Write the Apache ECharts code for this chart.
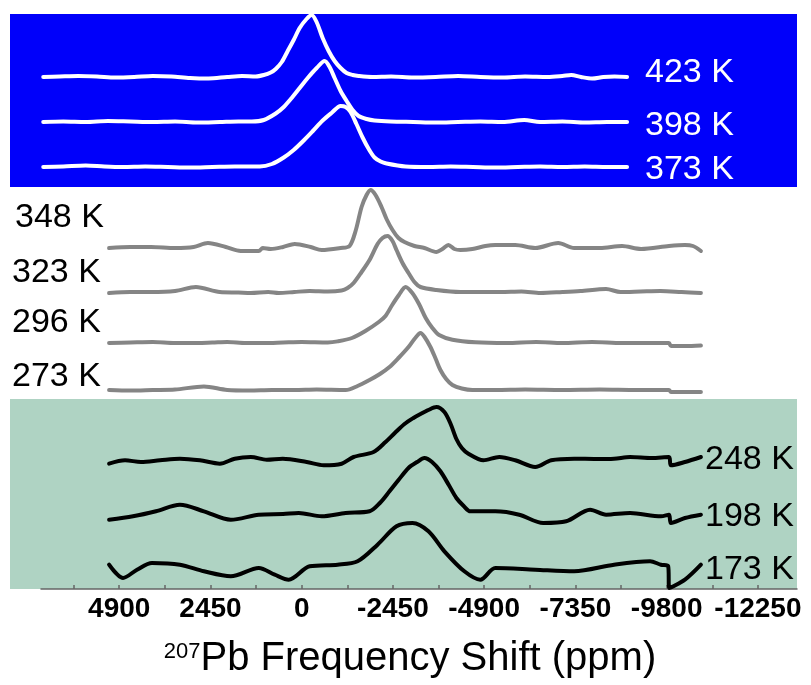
<!DOCTYPE html>
<html>
<head>
<meta charset="utf-8">
<script src="https://cdn.jsdelivr.net/npm/echarts@6/dist/echarts.min.js"></script>
<style>
html,body{margin:0;padding:0;background:#fff;}
#chart{width:811px;height:685px;}
</style>
</head>
<body>
<div id="chart"></div>
<script>
// Temperatures (labels) and stacking offsets (intensity units)
const temps = ['423 K','398 K','373 K','348 K','323 K','296 K','273 K','248 K','198 K','173 K'];
const offsets = [512, 467, 422, 342, 297, 246, 199, 127, 71, 21];

// Tick values (ppm)
const tickLabels = [4900, 2450, 0, -2450, -4900, -7350, -9800, -12250];
const minorTicks = [6125, 4900, 3675, 2450, 1225, 0, -1225, -2450, -3675, -4900, -6125, -7350, -8575, -9800, -11025, -12250];

// Spectra: chemical shift (ppm) and intensity (a.u.)
const ppm423 = [6940, 6500, 6000, 5500, 5000, 4500, 4000, 3500, 3000, 2500, 2000, 1600, 1233, 1018, 832, 697, 535, 375, 215, 54, -130, -268, -400, -563, -724, -884, -1045, -1206, -1367, -1528, -1900, -2400, -3000, -3600, -4200, -4800, -5400, -6000, -6600, -7000, -7236, -7500, -7800, -8100, -8400, -8737];
const int423 = [0, 0.5, 1, 0.5, -0.5, 0, 1, 0.5, -1, -1.5, 0, 1, 0.5, 2, 4.5, 8, 15, 26, 37, 49, 58, 62, 55, 39, 26, 16, 9, 4, 2, 1, 0, 0.5, -0.5, 0, 1, 0, -0.5, 0.5, 0, 1, 2, 0, -1.5, 0, 0.5, 0];

const ppm398 = [6940, 6400, 5800, 5200, 4600, 4000, 3400, 2800, 2200, 1700, 1340, 1018, 697, 482, 268, 54, -161, -402, -616, -750, -884, -1045, -1206, -1367, -1528, -1742, -1956, -2385, -3000, -3600, -4200, -4800, -5400, -5976, -6400, -7000, -7600, -8200, -8737];
const int398 = [0, 0.5, 0, 1, 0.5, 0, 0.5, -0.5, 0, 0.5, 0.5, 2, 8.5, 15, 24, 34, 44, 54, 61, 55, 44, 31, 21, 12, 6, 3, 1.5, 0.5, 0, -0.5, 0, 0.5, 0, 2, 0, 0.5, -0.5, 0, 0];

const ppm373 = [6940, 6400, 5800, 5300, 4800, 4200, 3600, 3000, 2400, 1800, 1126, 800, 482, 215, -54, -300, -563, -800, -1045, -1180, -1313, -1470, -1635, -1800, -1956, -2120, -2278, -2787, -3400, -4000, -4600, -5200, -5800, -6400, -7000, -7600, -8200, -8737];
const int373 = [0, 0.5, 1.5, 0.5, 0, 0.5, 0, -0.5, 0, 0.5, 0.5, 3, 9.5, 17, 26.5, 36, 46.5, 54, 61, 60, 55, 43, 29.5, 18, 9.5, 5.5, 3.5, 0.5, 0, 0.5, 0, -0.5, 0, 0.5, 0, 0.5, 0, 0];

const ppm348 = [5172, 4600, 4046, 3400, 2900, 2519, 2037, 1637, 1152, 1045, 832, 500, 188, -241, -536, -1045, -1286, -1447, -1608, -1742, -1849, -1983, -2144, -2278, -2439, -2600, -2760, -3028, -3296, -3618, -3779, -3940, -4100, -4261, -4583, -4932, -5199, -5735, -6271, -6888, -7316, -8013, -8603, -9112, -9862, -10291, -10505, -10720];
const int348 = [-1, 0, 0, -1, 0, 4, 0, -4, -4, -1, -2, 0, 3, 0, -3, -1, 1, 16, 40, 52, 57, 52, 40, 28, 17, 9, 5, 1, -1, -5, -2, 2, -2, -3, -2, 1, 2, 2, -1, 4, -1, -1, 1, -2, 1, 2, 1, -4];

const ppm323 = [5172, 4600, 4046, 3400, 2841, 2198, 1700, 1367, 900, 616, 200, -214, -700, -1072, -1233, -1394, -1608, -1822, -2037, -2171, -2305, -2439, -2546, -2707, -2868, -3028, -3189, -3618, -4261, -4800, -5339, -5900, -6412, -7000, -7486, -8174, -8559, -9100, -9632, -10200, -10720];
const int323 = [-1, 0, 0, 1, 5, 0, -0.5, -1, 0, -1, 0, 1, 0.5, 1.5, 4, 9, 20, 32, 48, 54, 56, 51, 42, 29, 19, 10, 5, 2, 0, 0, 0, 0.5, -1, 0, 1, 3, 0, 0.5, 1, 0, -1];

const ppm296 = [5172, 4600, 4000, 3400, 3000, 2400, 2000, 1500, 1000, 500, 0, -700, -965, -1350, -1710, -2070, -2250, -2430, -2610, -2790, -2970, -3150, -3330, -3510, -3690, -4047, -4663, -5500, -6300, -7000, -7800, -8600, -9300, -9862, -9916, -10300, -10720];
const int296 = [0, 0.5, 1, 0, 0, 0.5, 1, 0, 0, 0.5, 1, 0.5, 1.6, 5, 12, 21, 27, 38, 48, 56, 50, 39, 25, 15, 8, 3.3, 0.7, 0, 1, 0, 1, 0, 0, 0, -3, -3, -2.5];

const ppm273 = [5172, 4600, 4000, 3400, 2626, 2000, 1400, 800, 200, -400, -1179, -1500, -1822, -2100, -2358, -2600, -2868, -3028, -3189, -3300, -3457, -3600, -3725, -3880, -4047, -4300, -4583, -5200, -6000, -7000, -8000, -9000, -9862, -9916, -10300, -10720];
const int273 = [0, -0.5, 0, 0.5, 3.5, 0, -0.5, 0, 0, 0.5, 0, 4, 10, 16, 23, 32, 43, 51, 57, 53, 43, 31, 20, 11, 5, 1.5, 0, 0, 0.5, 0, 0.5, 0, 0, -2, -2, -2];

const ppm248 = [5172, 4744, 4315, 3806, 3270, 2734, 2198, 1796, 1367, 938, 509, -134, -590, -1072, -1394, -1930, -2251, -2500, -2760, -3000, -3189, -3400, -3618, -3832, -4000, -4154, -4300, -4476, -4878, -5306, -5735, -6271, -6700, -7316, -7900, -8388, -8817, -9400, -9862, -9916, -10291, -10720];
const int248 = [-1.7, 1.7, 0, 1.7, 3.3, 1.7, -1.7, 3.3, 5, 2.3, 3.3, 0, -3.3, -1.7, 5, 10, 20, 29, 38, 44, 48, 52, 55, 50, 38, 23, 14, 8.3, 1.7, 5, 1.7, -5, 1.7, 3.3, 3, 3.3, 5, 4, 5, -3.3, 0, 5];

const ppm198 = [5172, 4529, 3913, 3270, 2626, 1903, 1152, 500, 80, -536, -1179, -1822, -2100, -2358, -2600, -2868, -3100, -3296, -3500, -3725, -3950, -4154, -4350, -4529, -5199, -5842, -6486, -7102, -7745, -8174, -8817, -9648, -9862, -9916, -10291, -10720];
const int198 = [-1.7, 1.7, 6.7, 13.3, 6.7, -1.7, 3.3, 4, 5, 1.7, 5, 6.7, 15, 26.7, 38, 50, 56, 60, 56, 46.7, 33, 20, 12, 6.7, 6.7, 3.3, -5, -3.3, 8.3, 3.3, 5, 1.7, 3.3, -5, 0, 3.3];

const ppm173 = [5172, 4797, 4422, 4020, 3270, 2626, 1903, 1152, 724, 348, -214, -965, -1501, -2037, -2546, -2975, -3404, -3832, -4368, -4797, -5199, -6271, -7316, -8388, -9353, -9648, -9840, -9870, -10291, -10720];
const int173 = [3.3, -10, -1.7, 5, 3.3, -3.3, -8.3, 0, -6.7, -11.7, 1.7, 3.3, 6.7, 23.3, 41.7, 45, 36.7, 16.7, -3.3, -11.7, 0, -1.7, -3.3, 3.3, 6.7, 3.3, 2, -20, -11.7, 3.3];

const ppmSets = [ppm423, ppm398, ppm373, ppm348, ppm323, ppm296, ppm273, ppm248, ppm198, ppm173];
const intSets = [int423, int398, int373, int348, int323, int296, int273, int248, int198, int173];
const lineColors = ['#ffffff','#ffffff','#ffffff','#858585','#858585','#858585','#858585','#000000','#000000','#000000'];

const FONT = '"Liberation Sans", Arial, sans-serif';

const series = temps.map((t, i) => ({
  name: t,
  type: 'line',
  showSymbol: false,
  smooth: 0.3,
  lineStyle: { color: lineColors[i], width: 4, cap: 'round', join: 'round' },
  z: 5,
  data: ppmSets[i].map((p, k) => [p, intSets[i][k] + offsets[i]])
}));

// Temperature labels (text placement)
const labelPos = [
  {x: 645, y: 73, c: '#ffffff'}, {x: 645, y: 126, c: '#ffffff'}, {x: 645, y: 170, c: '#ffffff'},
  {x: 15, y: 218, c: '#000'}, {x: 12, y: 273, c: '#000'}, {x: 12, y: 323, c: '#000'}, {x: 12, y: 377, c: '#000'},
  {x: 705, y: 460, c: '#000'}, {x: 705, y: 517, c: '#000'}, {x: 705, y: 570, c: '#000'}
];

const graphics = [
  { type: 'rect', left: 10, top: 14, shape: { width: 787, height: 173 }, style: { fill: '#0000FA' }, z: -10 },
  { type: 'rect', left: 10, top: 399, shape: { width: 787, height: 190 }, style: { fill: '#AFD3C3' }, z: -10 }
].concat(temps.map((t, i) => ({
  type: 'text', x: labelPos[i].x, y: labelPos[i].y, z: 20,
  style: { text: t, fill: labelPos[i].c, font: '34px ' + FONT, textVerticalAlign: 'middle', verticalAlign: 'middle' }
})));

const chart = echarts.init(document.getElementById('chart'), null, { renderer: 'canvas' });
chart.setOption({
  animation: false,
  backgroundColor: '#ffffff',
  graphic: graphics,
  grid: { left: 41, right: 14, top: 14, bottom: 96, containLabel: false },
  xAxis: {
    type: 'value',
    inverse: true,
    min: -13300,
    max: 7000,
    axisLine: { show: true, lineStyle: { color: '#666', width: 1.5 } },
    axisTick: { show: true, inside: true, length: 4, customValues: minorTicks, lineStyle: { color: '#666', width: 1.5 } },
    axisLabel: { customValues: tickLabels, hideOverlap: false, formatter: function (v) { return String(v); }, color: '#000', fontSize: 28, fontWeight: 'bold', fontFamily: FONT, margin: 6 },
    splitLine: { show: false },
    name: '{sup|207}{main|Pb Frequency Shift (ppm)}',
    nameLocation: 'middle',
    nameGap: 50,
    nameTextStyle: {
      padding: [0, 18, 0, 0],
      rich: {
        sup: { fontSize: 22, fontFamily: FONT, color: '#000', verticalAlign: 'bottom', padding: [0, 0, 16, 0] },
        main: { fontSize: 40, fontFamily: FONT, color: '#000', verticalAlign: 'bottom' }
      }
    }
  },
  yAxis: { type: 'value', min: 0, max: 575, show: false },
  series: series
});
</script>
</body>
</html>
